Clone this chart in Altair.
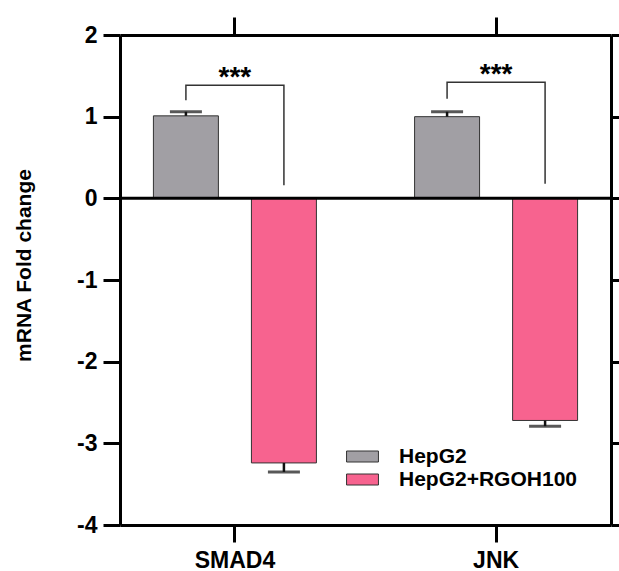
import altair as alt
import pandas as pd

genes = ["SMAD4", "JNK"]
groups = ["HepG2", "HepG2+RGOH100"]
hepg2_mean = [1.01, 1.00]
hepg2_err = [0.05, 0.06]
rgoh_mean = [-3.24, -2.72]
rgoh_err = [0.11, 0.07]
sig_labels = ["***", "***"]
bracket_left_low = [1.20, 1.22]
bracket_top = [1.385, 1.42]
bracket_right_low = [0.16, 0.18]
y_ticks = [-4, -3, -2, -1, 0, 1, 2]
colors = ["#a19fa4", "#f7638f"]

FONT = "Liberation Sans, Arial, sans-serif"

rows = []
for i, g in enumerate(genes):
    rows.append({"gene": g, "group": groups[0], "mean": hepg2_mean[i],
                 "cap": hepg2_mean[i] + hepg2_err[i]})
    rows.append({"gene": g, "group": groups[1], "mean": rgoh_mean[i],
                 "cap": rgoh_mean[i] - rgoh_err[i]})
df = pd.DataFrame(rows)

brows = []
for i, g in enumerate(genes):
    brows += [
        {"gene": g, "group": groups[0], "y": bracket_left_low[i], "step": 0},
        {"gene": g, "group": groups[0], "y": bracket_top[i], "step": 1},
        {"gene": g, "group": groups[1], "y": bracket_top[i], "step": 2},
        {"gene": g, "group": groups[1], "y": bracket_right_low[i], "step": 3},
    ]
bdf = pd.DataFrame(brows)
sdf = pd.DataFrame({"gene": genes, "label": sig_labels, "y": bracket_top})
zdf = pd.DataFrame({"z": [0]})

xscale = alt.Scale(domain=genes, paddingInner=0.12, paddingOuter=0)
oscale = alt.Scale(domain=groups, paddingInner=0.337, paddingOuter=0.341)
yscale = alt.Scale(domain=[-4, 2], nice=False, zero=False)

X = lambda axis: alt.X("gene:N", sort=genes, scale=xscale, axis=axis)
XO = alt.XOffset("group:N", sort=groups, scale=oscale)

bars = alt.Chart(df).mark_bar(stroke="#333333", strokeWidth=1).encode(
    x=X(alt.Axis(orient="bottom", title=None, labelAngle=0, tickSize=17,
                 labelPadding=7, labelFontSize=23)),
    xOffset=XO,
    y=alt.Y("mean:Q", scale=yscale,
            axis=alt.Axis(orient="left", values=y_ticks, title="mRNA Fold change",
                          tickSize=17, labelPadding=6, labelFontSize=23,
                          labelExpr="toString(datum.value)",
                          titleFontSize=21, titleFont=FONT, titleFontWeight="bold",
                          titleColor="black", titleX=-86, titleY=230)),
    color=alt.Color("group:N", scale=alt.Scale(domain=groups, range=colors),
                    legend=alt.Legend(title=None, orient="none", legendX=232, legendY=411,
                                      symbolType="M-2.9,-1H2.9V1H-2.9Z", symbolSize=121,
                                      symbolStrokeColor="#333333", symbolStrokeWidth=1,
                                      labelFont=FONT, labelFontWeight="bold",
                                      labelFontSize=21, labelColor="black",
                                      labelLimit=400, labelOffset=26, rowPadding=1)),
)

err = alt.Chart(df).mark_rule(color="#111111", strokeWidth=2.5).encode(
    x=X(None), xOffset=XO,
    y=alt.Y("mean:Q", scale=yscale, axis=None), y2="cap:Q")

caps = alt.Chart(df).mark_tick(color="#111111", thickness=3, size=32).encode(
    x=X(None), xOffset=XO,
    y=alt.Y("cap:Q", scale=yscale, axis=None))

zero = alt.Chart(zdf).mark_rule(color="black", strokeWidth=3).encode(
    y=alt.Y("z:Q", scale=yscale, axis=None))

brackets = alt.Chart(bdf).mark_line(color="#333333", strokeWidth=1.5).encode(
    x=X(None), xOffset=XO,
    y=alt.Y("y:Q", scale=yscale, axis=None),
    detail="gene:N", order="step:Q")

stars = alt.Chart(sdf).mark_text(fontSize=28, fontWeight="bold", font=FONT,
                                 baseline="alphabetic", align="center",
                                 color="black", dy=1).encode(
    x=X(None), y=alt.Y("y:Q", scale=yscale, axis=None), text="label:N")

frame = alt.Chart(df).mark_bar(opacity=0).encode(
    x=X(alt.Axis(orient="top", labels=False, title=None, tickSize=18)),
    xOffset=XO,
    y=alt.Y("mean:Q", scale=yscale,
            axis=alt.Axis(orient="right", values=y_ticks, labels=False,
                          title=None, tickSize=15)),
)

chart = alt.layer(bars, err, caps, zero, brackets, stars, frame).resolve_axis(
    x="independent", y="independent"
).properties(
    width=491, height=490,
    autosize=alt.AutoSizeParams(type="none"),
    padding={"left": 120, "top": 35, "right": 8, "bottom": 46},
).configure_view(stroke=None).configure_axis(
    grid=False, domainColor="black", domainWidth=3, tickColor="black", tickWidth=3,
    labelFont=FONT, labelFontWeight="bold", labelColor="black",
)

chart.save("out.html", embed_options={"renderer": "svg", "actions": False})
